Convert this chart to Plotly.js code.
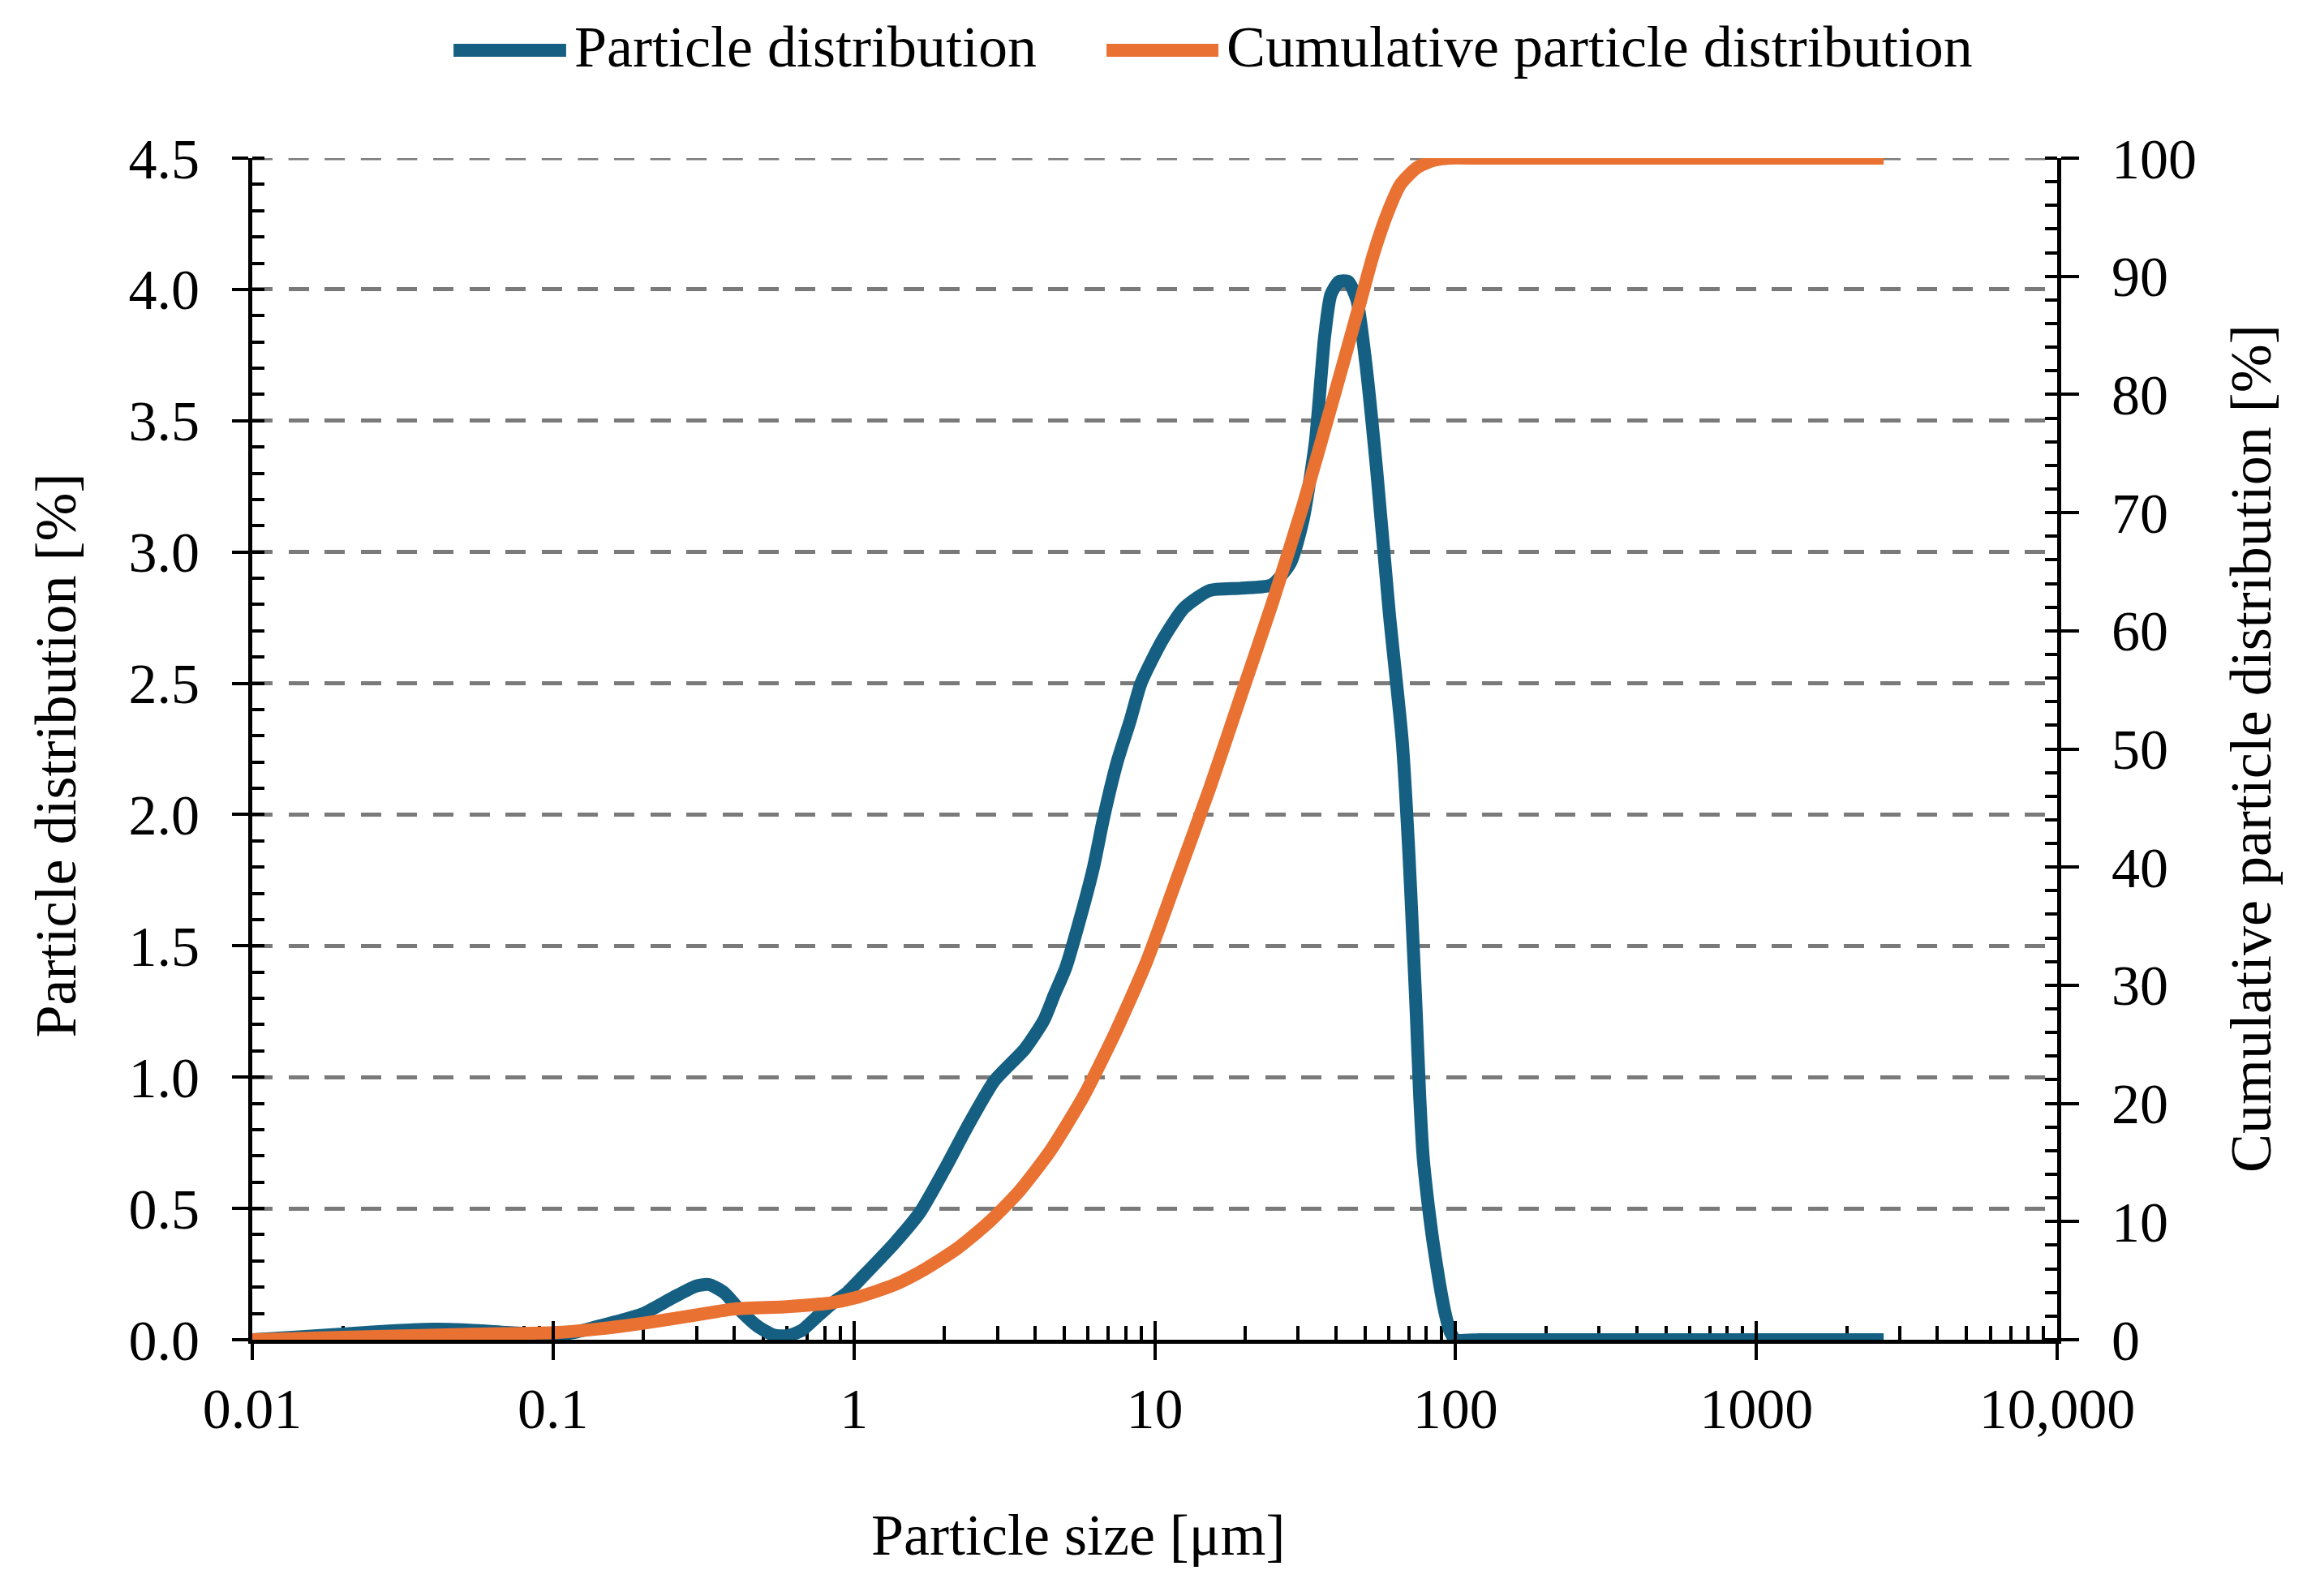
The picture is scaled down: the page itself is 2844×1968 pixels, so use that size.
<!DOCTYPE html>
<html>
<head>
<meta charset="utf-8">
<script src="https://cdn.plot.ly/plotly-3.0.1.min.js"></script>
<style>html,body{margin:0;padding:0;background:#fff;}#chart{width:2844px;height:1968px;}</style>
</head>
<body>
<div id="chart"></div>
<script>
// ---- data ----
const sizeBlue = [0.01,0.015,0.02,0.03,0.04,0.05,0.07,0.1,0.12,0.14,0.17,0.2,0.25,0.3,0.33,0.37,0.42,0.48,0.54,0.6,0.67,0.75,0.85,0.95,1.08,1.37,1.66,2.0,2.42,2.93,3.71,4.28,4.64,5.06,5.7,6.26,6.77,7.5,8.3,9.0,10.6,12.5,15.2,19.3,24.5,28.3,31.1,34.2,36.7,38.5,41,44,47,50.3,54.7,60.2,66.5,70,72,74,76,78,81,84,88,92,96,100,120,150,200,500,1000,2650];
const particleDist = [0,0.012,0.022,0.035,0.04,0.038,0.028,0.018,0.03,0.05,0.075,0.1,0.16,0.205,0.21,0.18,0.11,0.05,0.018,0.015,0.035,0.085,0.14,0.18,0.245,0.37,0.486,0.648,0.825,0.986,1.109,1.217,1.315,1.416,1.62,1.8,1.99,2.2,2.36,2.5,2.664,2.786,2.853,2.862,2.875,2.96,3.12,3.42,3.82,3.98,4.03,4.03,3.96,3.72,3.31,2.77,2.28,1.85,1.55,1.25,0.93,0.7,0.52,0.38,0.23,0.11,0.03,0,0,0,0,0,0,0];

const sizeOrange = [0.01,0.02,0.05,0.1,0.14,0.2,0.3,0.4,0.6,0.83,1.03,1.37,1.73,2.2,2.77,3.5,4.5,5.8,7.4,9.4,12,15.2,19.3,24.5,31.1,39.5,48.2,53.4,59.3,65.7,74.5,84.3,95,120,200,1000,2650];
const cumulativeDist = [0,0.2,0.45,0.6,0.9,1.4,2.1,2.6,2.8,3.1,3.6,4.67,6.0,7.7,9.8,12.4,16.0,20.6,26.0,32.0,39.4,46.6,54.4,62.2,70.6,79.9,87.8,91.9,95.3,97.8,99.2,99.8,100,100,100,100,100];

const xTickVals = [0.01,0.1,1,10,100,1000,10000];
const xTickText = ['0.01','0.1','1','10','100','1000','10,000'];
const xMinorVals = [];
for (let d = -2; d <= 3; d++) { for (let k = 2; k <= 9; k++) { xMinorVals.push(k * Math.pow(10, d)); } }

const seriesNames = ['Particle distribution','Cumulative particle distribution'];
const xTitle = 'Particle size [μm]';
const yTitle = 'Particle distribution [%]';
const y2Title = 'Cumulative particle distribution [%]';

// ---- styling ----
const FONT = 'Liberation Serif, Times New Roman, serif';
const BLUE = '#156082', ORANGE = '#E97132';
const LW = 16;

const traces = [
  {x: sizeBlue, y: particleDist, name: seriesNames[0], type: 'scatter', mode: 'lines',
   line: {color: BLUE, width: LW, shape: 'spline', smoothing: 0.6}, xaxis: 'x', yaxis: 'y'},
  {x: sizeOrange, y: cumulativeDist, name: seriesNames[1], type: 'scatter', mode: 'lines',
   line: {color: ORANGE, width: LW, shape: 'spline', smoothing: 0.6}, xaxis: 'x', yaxis: 'y2'},
  // helper traces so the tick-only overlay axes exist
  {x: [null], y: [null], xaxis: 'x2', yaxis: 'y', showlegend: false, hoverinfo: 'skip', mode: 'lines'},
  {x: [null], y: [null], xaxis: 'x', yaxis: 'y3', showlegend: false, hoverinfo: 'skip', mode: 'lines'},
  {x: [null], y: [null], xaxis: 'x', yaxis: 'y4', showlegend: false, hoverinfo: 'skip', mode: 'lines'}
];

const tickFont = {family: FONT, size: 70, color: '#000'};
const GRID = '#7a7a7a', GRIDDASH = '25px,19.6px', GRIDW = 5;

// legend drawn as swatch + text (paper coordinates)
const legendY = 1.0913;
const legendItems = [
  {name: seriesNames[0], color: BLUE, x0: 0.1115, x1: 0.1739, tx: 0.1775},
  {name: seriesNames[1], color: ORANGE, x0: 0.4733, x1: 0.5353, tx: 0.5390}
];

const shapes = [
  // top gridline at 4.5 (range edge)
  {type: 'line', xref: 'paper', yref: 'y', x0: 0, x1: 1, y0: 4.5, y1: 4.5,
   line: {color: GRID, width: GRIDW, dash: GRIDDASH}, layer: 'below'}
];
const annotations = [
  {text: xTitle, xref: 'paper', yref: 'paper', x: 0.4575, y: -0.1654, xanchor: 'center', yanchor: 'middle',
   showarrow: false, font: {family: FONT, size: 72, color: '#000'}},
  {text: yTitle, xref: 'paper', yref: 'paper', x: -0.1088, y: 0.4945, xanchor: 'center', yanchor: 'middle',
   textangle: -90, showarrow: false, font: {family: FONT, size: 72, color: '#000'}},
  {text: y2Title, xref: 'paper', yref: 'paper', x: 1.1074, y: 0.5003, xanchor: 'center', yanchor: 'middle',
   textangle: -90, showarrow: false, font: {family: FONT, size: 72, color: '#000'}}
];
legendItems.forEach(it => {
  shapes.push({type: 'line', xref: 'paper', yref: 'paper', x0: it.x0, x1: it.x1, y0: legendY, y1: legendY,
               line: {color: it.color, width: LW}});
  annotations.push({text: it.name, xref: 'paper', yref: 'paper', x: it.tx, y: legendY + 0.003, xanchor: 'left', yanchor: 'middle',
                    showarrow: false, font: {family: FONT, size: 72, color: '#000'}});
});

const layout = {
  width: 2844, height: 1968,
  margin: {l: 311, r: 308, t: 195, b: 316, pad: 0},
  paper_bgcolor: '#fff', plot_bgcolor: '#fff',
  font: {family: FONT, color: '#000'},
  showlegend: false,
  xaxis: {type: 'log', range: [-2, 4], tickmode: 'array', tickvals: xTickVals, ticktext: xTickText,
          ticks: 'outside', ticklen: 20, tickwidth: 4, tickcolor: '#000',
          showline: true, linewidth: 5, linecolor: '#000', showgrid: false, zeroline: false,
          tickfont: tickFont, ticklabelstandoff: 0, layer: 'below traces',
          minor: {tickmode: 'array', tickvals: xMinorVals, ticks: 'inside', ticklen: 17, tickwidth: 4, tickcolor: '#000', showgrid: false}},
  xaxis2: {type: 'log', range: [-2, 4], overlaying: 'x', anchor: 'y', side: 'bottom',
           tickmode: 'array', tickvals: xTickVals, ticks: 'inside', ticklen: 23, tickwidth: 4, tickcolor: '#000',
           showticklabels: false, showline: false, showgrid: false, zeroline: false},
  yaxis: {range: [0, 4.5], tickmode: 'linear', tick0: 0, dtick: 0.5, tickformat: '.1f',
          ticks: 'outside', ticklen: 20, tickwidth: 4, tickcolor: '#000',
          showline: true, linewidth: 5, linecolor: '#000', zeroline: false,
          showgrid: true, gridcolor: GRID, gridwidth: GRIDW, griddash: GRIDDASH,
          tickfont: tickFont, ticklabelstandoff: 26, layer: 'below traces',
          minor: {tick0: 0, dtick: 0.1, ticks: 'inside', ticklen: 15, tickwidth: 4, tickcolor: '#000', showgrid: false}},
  yaxis3: {range: [0, 4.5], overlaying: 'y', anchor: 'x', side: 'left', tickmode: 'linear', tick0: 0, dtick: 0.5,
           ticks: 'inside', ticklen: 12, tickwidth: 4, tickcolor: '#000',
           showticklabels: false, showline: false, showgrid: false, zeroline: false},
  yaxis2: {range: [0, 100], overlaying: 'y', side: 'right', anchor: 'x', tickmode: 'linear', tick0: 0, dtick: 10,
           ticks: 'outside', ticklen: 22, tickwidth: 4, tickcolor: '#000',
           showline: true, linewidth: 5, linecolor: '#000', showgrid: false, zeroline: false,
           tickfont: tickFont, ticklabelstandoff: 26, layer: 'below traces',
           minor: {tick0: 0, dtick: 2, ticks: 'inside', ticklen: 15, tickwidth: 4, tickcolor: '#000', showgrid: false}},
  yaxis4: {range: [0, 100], overlaying: 'y', side: 'right', anchor: 'x', tickmode: 'linear', tick0: 0, dtick: 10,
           ticks: 'inside', ticklen: 15, tickwidth: 4, tickcolor: '#000',
           showticklabels: false, showline: false, showgrid: false, zeroline: false},
  shapes: shapes,
  annotations: annotations
};

Plotly.newPlot('chart', traces, layout, {displayModeBar: false, responsive: false});
</script>
</body>
</html>
